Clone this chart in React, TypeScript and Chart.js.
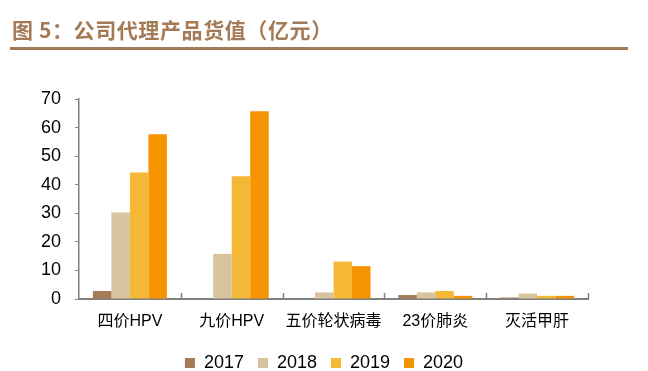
import React, { useEffect, useRef } from "react";
import { Chart, registerables } from "chart.js";

Chart.register(...registerables);

const categories = ["四价HPV", "九价HPV", "五价轮状病毒", "23价肺炎", "灭活甲肝"];
const years = ["2017", "2018", "2019", "2020"];
const values2017 = [2.8, 0, 0, 1.4, 0.5];
const values2018 = [30.3, 15.8, 2.3, 2.3, 1.9];
const values2019 = [44.3, 43.0, 13.1, 2.8, 1.1];
const values2020 = [57.7, 65.7, 11.5, 1.1, 1.1];
const yTicks = [0, 10, 20, 30, 40, 50, 60, 70];
const colors = ["#A57C55", "#D7C49E", "#F5B736", "#F59300"];

const FONT = '"Liberation Sans", Arial, "Noto Sans CJK SC", sans-serif';

const innerTicks = {
  id: "innerTicks",
  afterDraw(chart: any) {
    const x = chart.scales.x;
    const ctx = chart.ctx;
    const y0 = chart.chartArea.bottom;
    const n = categories.length;
    const half = (x.getPixelForValue(1) - x.getPixelForValue(0)) / 2;
    ctx.save();
    ctx.strokeStyle = "#808080";
    ctx.lineWidth = 1.5;
    for (let i = 0; i < n; i++) {
      const bx = x.getPixelForValue(i) + half;
      ctx.beginPath();
      ctx.moveTo(Math.round(bx) + 0.5, y0);
      ctx.lineTo(Math.round(bx) + 0.5, y0 - 6);
      ctx.stroke();
    }
    ctx.restore();
  },
};

export default function App() {
  const ref = useRef<HTMLCanvasElement | null>(null);
  useEffect(() => {
    if (!ref.current) return;
    const series = [values2017, values2018, values2019, values2020];
    const chart = new Chart(ref.current, {
      type: "bar",
      data: {
        labels: categories,
        datasets: years.map((y, i) => ({
          label: y,
          data: series[i],
          backgroundColor: colors[i],
          borderWidth: 0,
          categoryPercentage: 0.727,
          barPercentage: 1,
        })),
      },
      options: {
        animation: false,
        responsive: false,
        maintainAspectRatio: false,
        layout: { padding: { top: 99, left: 0, right: 0, bottom: 0 } },
        plugins: {
          legend: {
            position: "bottom",
            labels: {
              boxWidth: 10,
              boxHeight: 10,
              padding: 14,
              color: "#000",
              font: { family: FONT, size: 18 },
            },
          },
          tooltip: { enabled: false },
        },
        scales: {
          x: {
            grid: { display: false, drawTicks: false },
            border: { display: true, color: "#808080", width: 2 },
            ticks: {
              color: "#000",
              padding: 13,
              maxRotation: 0,
              minRotation: 0,
              autoSkip: false,
              font: { family: FONT, size: 16 },
            },
            afterFit: (s: any) => { s.height = 41; },
          },
          y: {
            min: 0,
            max: 70,
            afterBuildTicks: (s: any) => { s.ticks = yTicks.map((v) => ({ value: v })); },
            grid: { drawOnChartArea: false, drawTicks: true, tickLength: 4, color: "#808080" },
            border: { display: true, color: "#808080", width: 1.5 },
            ticks: { color: "#000", padding: 14, font: { family: FONT, size: 18 } },
            afterFit: (s: any) => { s.width = 79; },
          },
          yRight: {
            type: "linear",
            position: "right",
            display: true,
            min: 0,
            max: 70,
            grid: { display: false, drawTicks: false },
            border: { display: false },
            ticks: { display: false },
            afterFit: (s: any) => { s.width = 60; },
          },
        },
      },
      plugins: [innerTicks],
    });
    return () => chart.destroy();
  }, []);

  return (
    <div style={{ position: "fixed", left: 0, top: 0, width: 648, height: 371, overflow: "hidden", background: "#fff" }}>
      <canvas ref={ref} width={648} height={382} style={{ position: "absolute", left: 0, top: 0, width: 648, height: 382 }} />
      <div
        style={{
          position: "absolute",
          left: 12,
          top: 15,
          fontFamily: '"Noto Sans CJK SC", sans-serif',
          fontWeight: 700,
          fontSize: 21,
          letterSpacing: 0.6,
          lineHeight: "28px",
          color: "#A47A56",
          whiteSpace: "nowrap",
        }}
      >
        图 5：公司代理产品货值（亿元）
      </div>
      <div style={{ position: "absolute", left: 10, top: 47, width: 618, height: 3, background: "#A47A56" }} />
    </div>
  );
}
